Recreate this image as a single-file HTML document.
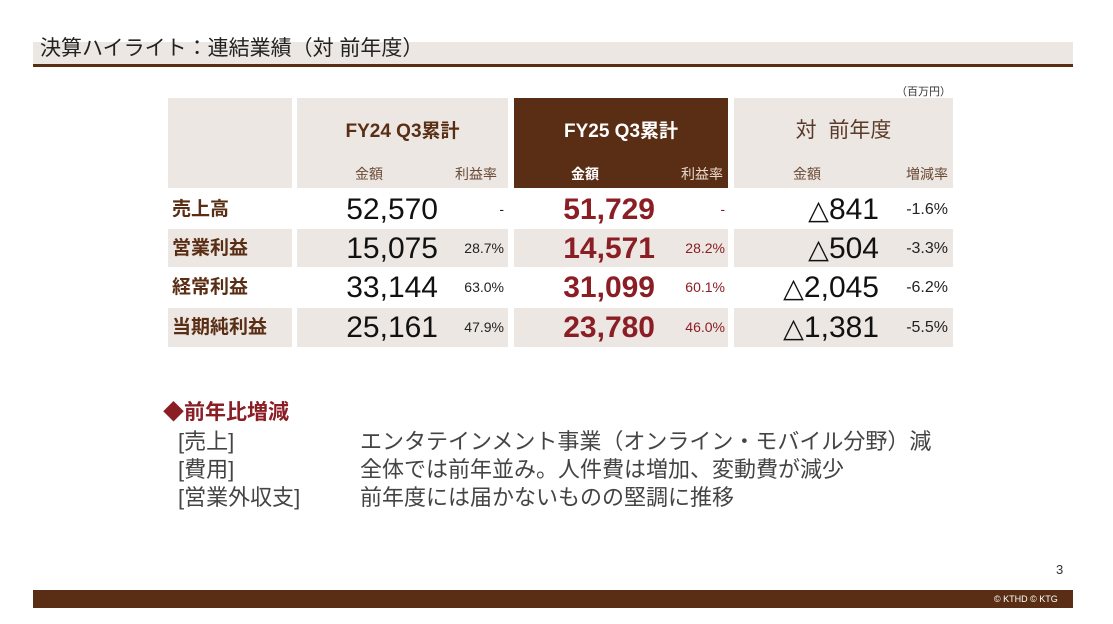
<!DOCTYPE html>
<html><head><meta charset="utf-8"><style>
*{margin:0;padding:0;box-sizing:border-box}
body{width:1113px;height:624px;background:#fff;position:relative;overflow:hidden;font-family:"Liberation Sans","Noto Sans CJK JP",sans-serif;color:#111}
.a{position:absolute;white-space:nowrap}
.bg{position:absolute;background:#ece7e2}
.br{position:absolute;background:#5a2e14}
.hd{color:#5a2e14;font-weight:bold;font-size:19px}
.sub{font-size:14px;color:#6b4a36}
.lab{font-weight:bold;font-size:19px;color:#5a2e14;line-height:39px}
.num{font-size:30px;color:#111;text-align:right;line-height:39px}
.red{font-size:30px;font-weight:bold;color:#8b1e24;text-align:right;line-height:39px}
.pct{font-size:14px;color:#222;text-align:right;line-height:39px}
.pr{font-size:14px;color:#8b1e24;text-align:right;line-height:39px}
.tri{font-family:"Liberation Sans","DejaVu Sans",sans-serif;font-size:27px}
.t{font-size:22px;color:#444}
</style></head><body>
<div class="bg" style="left:33px;top:42px;width:1040px;height:23px"></div>
<div class="br" style="left:33px;top:64px;width:1040px;height:3px"></div>
<div class="a" style="left:40px;top:32px;font-size:21px;color:#222">決算ハイライト：連結業績（対 前年度）</div>
<div class="a" style="left:896px;top:83px;font-size:11px;color:#333">（百万円）</div>

<div class="bg" style="left:168px;top:98px;width:124px;height:90px"></div>
<div class="bg" style="left:297px;top:98px;width:211px;height:90px"></div>
<div class="br" style="left:514px;top:98px;width:214px;height:90px"></div>
<div class="bg" style="left:734px;top:98px;width:219px;height:90px"></div>

<div class="a hd" style="left:297px;width:211px;text-align:center;top:116px">FY24 Q3累計</div>
<div class="a hd" style="left:514px;width:214px;text-align:center;top:116px;color:#fff">FY25 Q3累計</div>
<div class="a" style="left:734px;width:219px;text-align:center;top:114px;font-size:21px;color:#5a3a28">対&nbsp;&nbsp;前年度</div>
<div class="a sub" style="left:355px;top:164px">金額</div>
<div class="a sub" style="left:455px;top:164px">利益率</div>
<div class="a sub" style="left:571px;top:164px;color:#fff;font-weight:bold">金額</div>
<div class="a sub" style="left:681px;top:164px;color:#e8d8cc">利益率</div>
<div class="a sub" style="left:793px;top:164px">金額</div>
<div class="a sub" style="left:906px;top:164px">増減率</div>

<div class="bg" style="left:168px;top:229px;width:124px;height:38px"></div>
<div class="bg" style="left:297px;top:229px;width:211px;height:38px"></div>
<div class="bg" style="left:514px;top:229px;width:214px;height:38px"></div>
<div class="bg" style="left:734px;top:229px;width:219px;height:38px"></div>
<div class="bg" style="left:168px;top:308px;width:124px;height:39px"></div>
<div class="bg" style="left:297px;top:308px;width:211px;height:39px"></div>
<div class="bg" style="left:514px;top:308px;width:214px;height:39px"></div>
<div class="bg" style="left:734px;top:308px;width:219px;height:39px"></div>

<div class="a lab" style="left:172px;top:190px">売上高</div>
<div class="a lab" style="left:172px;top:229px">営業利益</div>
<div class="a lab" style="left:172px;top:268px">経常利益</div>
<div class="a lab" style="left:172px;top:308px">当期純利益</div>

<div class="a num" style="left:300px;width:138px;top:190px">52,570</div>
<div class="a num" style="left:300px;width:138px;top:229px">15,075</div>
<div class="a num" style="left:300px;width:138px;top:268px">33,144</div>
<div class="a num" style="left:300px;width:138px;top:308px">25,161</div>
<div class="a pct" style="left:440px;width:64px;top:190px">-</div>
<div class="a pct" style="left:440px;width:64px;top:229px">28.7%</div>
<div class="a pct" style="left:440px;width:64px;top:268px">63.0%</div>
<div class="a pct" style="left:440px;width:64px;top:308px">47.9%</div>

<div class="a red" style="left:514px;width:141px;top:190px">51,729</div>
<div class="a red" style="left:514px;width:141px;top:229px">14,571</div>
<div class="a red" style="left:514px;width:141px;top:268px">31,099</div>
<div class="a red" style="left:514px;width:141px;top:308px">23,780</div>
<div class="a pr" style="left:660px;width:65px;top:190px">-</div>
<div class="a pr" style="left:660px;width:65px;top:229px">28.2%</div>
<div class="a pr" style="left:660px;width:65px;top:268px">60.1%</div>
<div class="a pr" style="left:660px;width:65px;top:308px">46.0%</div>

<div class="a num" style="left:734px;width:145px;top:190px"><span class="tri">△</span>841</div>
<div class="a num" style="left:734px;width:145px;top:229px"><span class="tri">△</span>504</div>
<div class="a num" style="left:734px;width:145px;top:268px"><span class="tri">△</span>2,045</div>
<div class="a num" style="left:734px;width:145px;top:308px"><span class="tri">△</span>1,381</div>
<div class="a pct" style="left:880px;width:68px;top:190px;font-size:16px">-1.6%</div>
<div class="a pct" style="left:880px;width:68px;top:229px;font-size:16px">-3.3%</div>
<div class="a pct" style="left:880px;width:68px;top:268px;font-size:16px">-6.2%</div>
<div class="a pct" style="left:880px;width:68px;top:308px;font-size:16px">-5.5%</div>

<div class="a" style="left:163px;top:396px;font-size:21px;font-weight:bold;color:#8b1e24">◆前年比増減</div>
<div class="a t" style="left:178px;top:424px">[売上]</div>
<div class="a t" style="left:178px;top:452px">[費用]</div>
<div class="a t" style="left:178px;top:480px">[営業外収支]</div>
<div class="a t" style="left:360px;top:424px">エンタテインメント事業（オンライン・モバイル分野）減</div>
<div class="a t" style="left:360px;top:452px">全体では前年並み。人件費は増加、変動費が減少</div>
<div class="a t" style="left:360px;top:480px">前年度には届かないものの堅調に推移</div>

<div class="a" style="left:1056px;top:562px;font-size:13px;color:#333">3</div>
<div class="br" style="left:33px;top:590px;width:1040px;height:18px"></div>
<div class="a" style="left:994px;top:594px;font-size:9px;color:#fff">© KTHD © KTG</div>
</body></html>
